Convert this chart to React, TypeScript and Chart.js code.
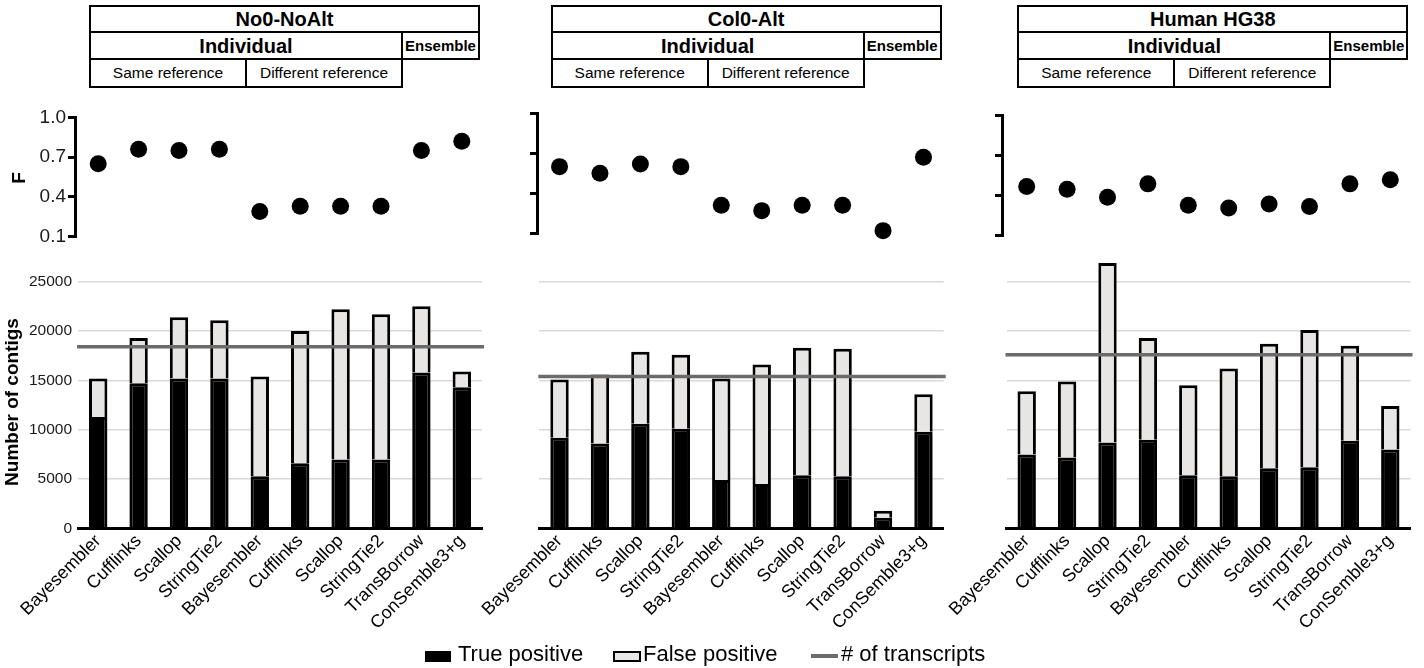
import React, { useEffect, useRef } from 'react';
import { Chart, registerables } from 'chart.js';

Chart.register(...registerables);

// ---------------- data ----------------
const categories = [
  'Bayesembler', 'Cufflinks', 'Scallop', 'StringTie2',
  'Bayesembler', 'Cufflinks', 'Scallop', 'StringTie2',
  'TransBorrow', 'ConSemble3+g',
];
const panelTitles = ['No0-NoAlt', 'Col0-Alt', 'Human HG38'];
const groupLabels = ['Individual', 'Ensemble'];
const refLabels = ['Same reference', 'Different reference'];
const fTickValues = [0.1, 0.4, 0.7, 1.0];
const contigTickValues = [0, 5000, 10000, 15000, 20000, 25000];
const contigMax = 27600;
const legendLabels = ['True positive', 'False positive', '# of transcripts'];
const fTitle = 'F';
const contigTitle = 'Number of contigs';

const fNo0NoAlt = [0.65, 0.76, 0.75, 0.76, 0.29, 0.33, 0.33, 0.33, 0.75, 0.82];
const fCol0Alt = [0.60, 0.55, 0.62, 0.60, 0.31, 0.27, 0.31, 0.31, 0.12, 0.67];
const fHumanHG38 = [0.47, 0.45, 0.39, 0.49, 0.33, 0.31, 0.34, 0.32, 0.49, 0.52];

const tpNo0NoAlt = [11300, 14700, 15200, 15200, 5300, 6600, 7000, 7000, 15800, 14300];
const fpNo0NoAlt = [3900, 4600, 6200, 5900, 10100, 13400, 15200, 14700, 6700, 1600];
const tpCol0Alt = [9200, 8600, 10600, 10100, 4900, 4500, 5400, 5300, 1100, 9800];
const fpCol0Alt = [5900, 7000, 7300, 7500, 10300, 12100, 12900, 12900, 700, 3800];
const tpHumanHG38 = [7500, 7200, 8700, 9000, 5400, 5300, 6100, 6200, 8900, 8000];
const fpHumanHG38 = [6400, 7700, 18200, 10300, 9100, 10900, 12600, 13900, 9600, 4400];

const transcriptsNo0NoAlt = 18400;
const transcriptsCol0Alt = 15400;
const transcriptsHumanHG38 = 17600;

const panelData = [
  { f: fNo0NoAlt, tp: tpNo0NoAlt, fp: fpNo0NoAlt, transcripts: transcriptsNo0NoAlt },
  { f: fCol0Alt, tp: tpCol0Alt, fp: fpCol0Alt, transcripts: transcriptsCol0Alt },
  { f: fHumanHG38, tp: tpHumanHG38, fp: fpHumanHG38, transcripts: transcriptsHumanHG38 },
];

// ---------------- layout & style ----------------
const W = 1424;
const H = 668;
const FONT = "'Liberation Sans', Arial, Helvetica, sans-serif";
const TP_COLOR = '#000000';
const FP_COLOR = '#e8e6e4';
const LINE_COLOR = '#6b6b6b';
const GRID_COLOR = '#d9d9d9';
const TEXT_COLOR = '#1a1a1a';

const BAR_TOP = 256;
const BAR_BOTTOM = 528.5;
const X_AXIS_H = 132;

const panelLayouts = [
  { plotLeft: 78, plotRight: 482, fAxisX: 75, fTop: 117.3, fBottom: 236.7, labels: true, tableLeft: 89 },
  { plotLeft: 539.3, plotRight: 943.7, fAxisX: 537, fTop: 113.3, fBottom: 233.3, labels: false, tableLeft: 550.7 },
  { plotLeft: 1006.5, plotRight: 1410.5, fAxisX: 1002, fTop: 115.7, fBottom: 236, labels: false, tableLeft: 1017.3 },
];

Chart.defaults.font.family = FONT;
Chart.defaults.color = TEXT_COLOR;

function transcriptLinePlugin(value: number) {
  return {
    id: 'transcriptLine',
    afterDatasetsDraw(chart: any) {
      const { ctx, chartArea, scales } = chart;
      const y = scales.y.getPixelForValue(value);
      ctx.save();
      ctx.strokeStyle = LINE_COLOR;
      ctx.lineWidth = 3.5;
      ctx.beginPath();
      ctx.moveTo(chartArea.left - 1, y);
      ctx.lineTo(chartArea.right + 2, y);
      ctx.stroke();
      ctx.restore();
    },
  };
}

function makeBarChart(canvas: HTMLCanvasElement, d: any, l: any) {
  const yW = l.labels ? 78 : 10;
  return new Chart(canvas, {
    type: 'bar',
    data: {
      labels: categories,
      datasets: [
        {
          label: legendLabels[0],
          data: d.tp,
          backgroundColor: TP_COLOR,
          borderColor: '#000',
          borderWidth: 3,
        },
        {
          label: legendLabels[1],
          data: d.fp,
          backgroundColor: FP_COLOR,
          borderColor: '#000',
          borderWidth: 3,
        },
      ],
    },
    options: {
      responsive: false,
      animation: false,
      events: [],
      layout: {
        padding: {
          left: l.plotLeft - yW,
          right: W - l.plotRight,
          top: BAR_TOP,
          bottom: H - BAR_BOTTOM - X_AXIS_H,
        },
      },
      datasets: { bar: { barPercentage: 0.455, categoryPercentage: 1 } },
      plugins: { legend: { display: false }, tooltip: { enabled: false }, title: { display: false } },
      scales: {
        x: {
          stacked: true,
          grid: { display: false },
          border: { display: true, color: '#000', width: 3 },
          ticks: {
            autoSkip: false,
            minRotation: 45,
            maxRotation: 45,
            color: '#000',
            padding: -6,
            font: { size: 18, family: FONT },
          },
          afterFit: (s: any) => { s.height = X_AXIS_H; },
        },
        y: {
          stacked: true,
          min: 0,
          max: contigMax,
          afterBuildTicks: (s: any) => { s.ticks = contigTickValues.map((v) => ({ value: v })); },
          grid: { color: GRID_COLOR, lineWidth: 1.5, drawTicks: false },
          border: { display: false },
          ticks: {
            display: l.labels,
            padding: 6,
            color: TEXT_COLOR,
            font: { size: 15.5, family: FONT },
            callback: (v: any) => String(v),
          },
          afterFit: (s: any) => { s.width = yW; },
        },
      },
    } as any,
    plugins: [transcriptLinePlugin(d.transcripts)],
  });
}

function makeFChart(canvas: HTMLCanvasElement, d: any, l: any) {
  const fW = l.labels ? 75 : 40;
  const spacing = (l.plotRight - l.plotLeft) / categories.length;
  const xMin = (l.fAxisX - l.plotLeft) / spacing - 0.5;
  const xMax = categories.length - 0.5;
  return new Chart(canvas, {
    type: 'scatter',
    data: {
      datasets: [
        {
          data: d.f.map((v: number, i: number) => ({ x: i, y: v })),
          backgroundColor: '#000',
          borderColor: '#000',
          pointRadius: 8.5,
          pointHoverRadius: 8.5,
          borderWidth: 0,
          clip: false,
        },
      ],
    },
    options: {
      responsive: false,
      animation: false,
      events: [],
      layout: {
        padding: {
          left: l.fAxisX - fW,
          right: W - l.plotRight,
          top: l.fTop,
          bottom: H - l.fBottom,
        },
      },
      plugins: { legend: { display: false }, tooltip: { enabled: false }, title: { display: false } },
      scales: {
        x: { type: 'linear', display: false, min: xMin, max: xMax },
        y: {
          min: 0.1,
          max: 1.0,
          afterBuildTicks: (s: any) => { s.ticks = fTickValues.map((v) => ({ value: v })); },
          grid: { drawOnChartArea: false, drawTicks: true, tickLength: 7, color: '#000', lineWidth: 3 },
          border: { display: true, color: '#000', width: 3 },
          ticks: {
            display: l.labels,
            padding: 2,
            color: TEXT_COLOR,
            font: { size: 19, family: FONT },
            callback: (v: any) => Number(v).toFixed(1),
          },
          afterFit: (s: any) => { s.width = fW; },
        },
      },
    } as any,
  });
}

function ChartCanvas({ kind, index }: { kind: 'bar' | 'f'; index: number }) {
  const ref = useRef<HTMLCanvasElement | null>(null);
  useEffect(() => {
    if (!ref.current) return;
    const d = panelData[index];
    const l = panelLayouts[index];
    const chart = kind === 'bar' ? makeBarChart(ref.current, d, l) : makeFChart(ref.current, d, l);
    return () => chart.destroy();
  }, [kind, index]);
  return (
    <canvas
      ref={ref}
      width={W}
      height={H}
      style={{ position: 'absolute', left: 0, top: 0, width: W, height: H }}
    />
  );
}

function Box({ x0, x1, y0, y1, text, size, bold }: any) {
  return (
    <div
      style={{
        position: 'absolute',
        left: x0,
        top: y0,
        width: x1 - x0,
        height: y1 - y0,
        border: '2px solid #000',
        boxSizing: 'border-box',
        display: 'flex',
        alignItems: 'center',
        justifyContent: 'center',
        fontFamily: FONT,
        fontSize: size,
        fontWeight: bold ? 'bold' : 'normal',
        color: '#000',
        whiteSpace: 'nowrap',
        lineHeight: 1,
        background: '#fff',
      }}
    >
      {text}
    </div>
  );
}

function Header({ index }: { index: number }) {
  const x = panelLayouts[index].tableLeft;
  return (
    <>
      <Box x0={x} x1={x + 391} y0={5} y1={33} text={panelTitles[index]} size={20} bold />
      <Box x0={x} x1={x + 314} y0={31} y1={60} text={groupLabels[0]} size={20} bold />
      <Box x0={x + 312} x1={x + 391} y0={31} y1={60} text={groupLabels[1]} size={15} bold />
      <Box x0={x} x1={x + 158} y0={58} y1={88} text={refLabels[0]} size={15.5} />
      <Box x0={x + 156} x1={x + 314} y0={58} y1={88} text={refLabels[1]} size={15.5} />
    </>
  );
}

const legendText: React.CSSProperties = {
  position: 'absolute',
  top: 643,
  fontFamily: FONT,
  fontSize: 22,
  lineHeight: '22px',
  color: '#000',
  whiteSpace: 'nowrap',
};

export default function App() {
  return (
    <div style={{ position: 'absolute', left: 0, top: 0, width: W, height: H, background: '#fff', overflow: 'hidden' }}>
      {[0, 1, 2].map((i) => (
        <Header key={'h' + i} index={i} />
      ))}
      {[0, 1, 2].map((i) => (
        <ChartCanvas key={'f' + i} kind="f" index={i} />
      ))}
      {[0, 1, 2].map((i) => (
        <ChartCanvas key={'b' + i} kind="bar" index={i} />
      ))}
      <div
        style={{
          position: 'absolute', left: 17.5, top: 177.5,
          transform: 'translate(-50%, -50%) rotate(-90deg)',
          fontFamily: FONT, fontSize: 19, fontWeight: 'bold', lineHeight: 1, whiteSpace: 'nowrap',
        }}
      >
        {fTitle}
      </div>
      <div
        style={{
          position: 'absolute', left: 11, top: 401.5,
          transform: 'translate(-50%, -50%) rotate(-90deg)',
          fontFamily: FONT, fontSize: 19, fontWeight: 'bold', lineHeight: 1, whiteSpace: 'nowrap',
        }}
      >
        {contigTitle}
      </div>
      {/* legend */}
      <div style={{ position: 'absolute', left: 425, top: 651, width: 26, height: 11, background: TP_COLOR }} />
      <div style={{ ...legendText, left: 458 }}>{legendLabels[0]}</div>
      <div
        style={{
          position: 'absolute', left: 613, top: 651, width: 28, height: 11,
          background: FP_COLOR, border: '2px solid #000', boxSizing: 'border-box',
        }}
      />
      <div style={{ ...legendText, left: 643 }}>{legendLabels[1]}</div>
      <div style={{ position: 'absolute', left: 811, top: 654, width: 27, height: 4, background: LINE_COLOR }} />
      <div style={{ ...legendText, left: 841 }}>{legendLabels[2]}</div>
    </div>
  );
}
